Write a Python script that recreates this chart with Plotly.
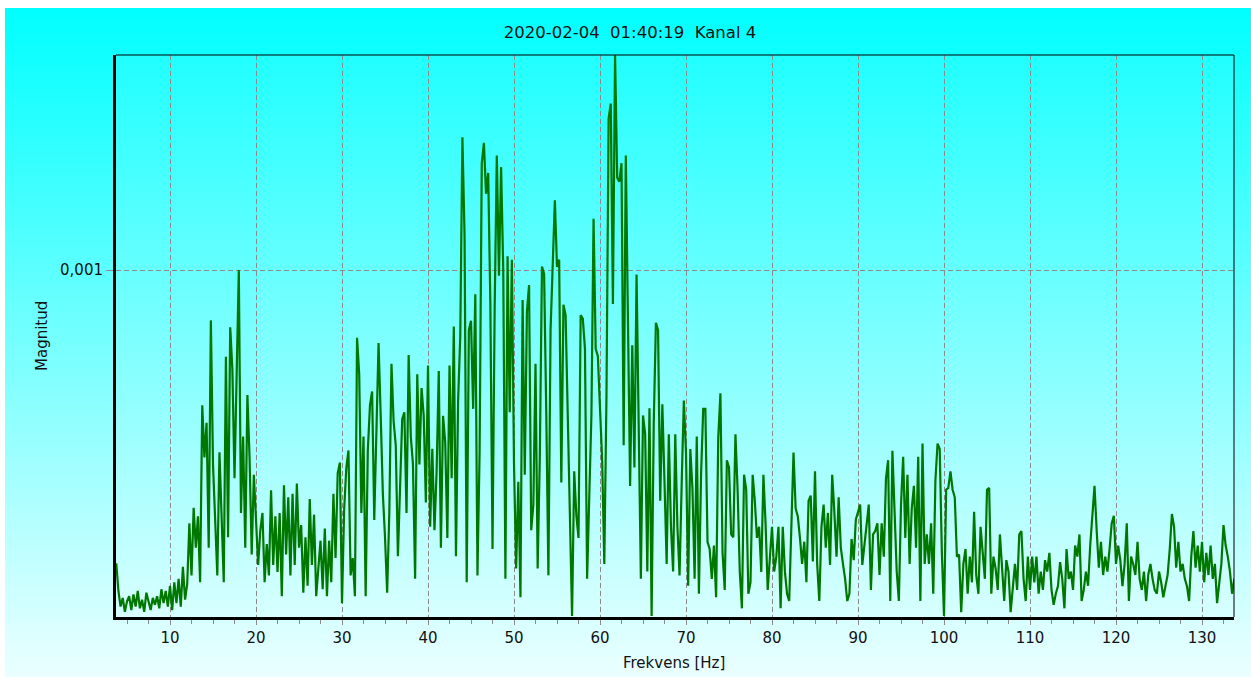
import numpy as np
import plotly.graph_objects as go

# ---------------------------------------------------------------------------
# Spectrum: magnitude per 0.25 Hz bin, in units of 1e-6 (so 1000 == 0,001)
# ---------------------------------------------------------------------------
FREQ_START = 3.75
FREQ_STEP = 0.25

mag_first = [155]
mag_04_14 = [75, 30, 55, 15,   45, 60, 20, 65,   30, 75, 25, 50,   15, 70, 40, 20,
             55, 35, 60, 25,   80, 40, 75, 30,   90, 20, 100, 40,  110, 30, 145, 50,
             95, 270, 120, 315, 200, 290, 100, 610]
mag_14_24 = [460, 560, 200, 855, 440, 260, 120, 475, 250, 100, 750, 230,
             835, 715, 400, 690, 1000, 300, 520, 200, 640, 460, 180, 410,
             290, 150, 250, 300, 100, 210, 120, 365, 150, 290, 130, 300,
             60, 380, 180, 345]
mag_24_34 = [120, 355, 150, 385, 200, 265, 70, 230, 90, 340, 150, 295,
             60, 130, 220, 80, 255, 60, 220, 100, 355, 170, 415, 445,
             40, 310, 430, 480, 120, 170, 60, 805, 700, 300, 520, 60,
             480, 610, 650, 280]
mag_34_44 = [560, 790, 580, 355, 230, 70, 300, 730, 565, 495, 175, 345,
             570, 590, 300, 755, 520, 440, 110, 700, 440, 660, 580, 330,
             725, 260, 485, 250, 420, 709, 200, 580, 505, 228, 725, 400,
             837, 175, 624, 810]
mag_44_54 = [1383, 1100, 100, 827, 854, 600, 930, 120, 475, 1308, 1367, 1220,
             1280, 900, 196, 890, 1330, 984, 1297, 1000, 110, 1040, 590, 1030,
             440, 140, 390, 57, 914, 410, 880, 957, 250, 324, 730, 140,
             462, 1010, 989, 591]
mag_54_64 = [120, 827, 1036, 1201, 1009, 1030, 388, 900, 870, 581, 313, 3,
             420, 292, 228, 870, 860, 773, 110, 345, 581, 1148, 773, 752,
             624, 452, 153, 634, 1437, 1480, 902, 1620, 1266, 1255, 1308, 495,
             1330, 923, 378, 783]
mag_64_74 = [431, 987, 474, 110, 581, 527, 131, 602, 3, 560, 848, 827,
             335, 613, 388, 153, 527, 260, 131, 527, 260, 120, 388, 624,
             474, 90, 484, 370, 110, 520, 67, 410, 600, 600, 217, 196,
             110, 206, 57, 517]
mag_74_84 = [645, 185, 78, 452, 431, 238, 230, 527, 367, 131, 25, 410,
             367, 67, 100, 410, 335, 228, 260, 130, 410, 270, 78, 164,
             260, 131, 174, 260, 25, 260, 130, 67, 46, 260, 474, 313,
             290, 228, 153, 217]
mag_84_94 = [100, 335, 350, 160, 420, 153, 46, 260, 324, 200, 300, 150,
             410, 303, 174, 345, 200, 153, 110, 46, 67, 225, 164, 281,
             303, 324, 150, 206, 281, 324, 78, 238, 248, 270, 121, 270,
             174, 399, 452, 46]
mag_94_104 = [479, 303, 131, 46, 324, 462, 228, 410, 153, 313, 378, 200,
              462, 46, 500, 153, 238, 153, 270, 67, 394, 500, 484, 185,
              3, 367, 372, 420, 367, 345, 174, 180, 14, 153, 196, 67,
              174, 100, 303, 120]
mag_104_114 = [67, 260, 196, 110, 367, 372, 67, 174, 140, 78, 238, 150,
               46, 164, 131, 14, 89, 153, 78, 238, 248, 110, 46, 174,
               78, 174, 100, 174, 67, 131, 78, 164, 131, 185, 78, 35,
               67, 89, 158, 110]
mag_114_124 = [25, 196, 110, 131, 78, 206, 174, 238, 46, 78, 131, 90,
               206, 292, 378, 250, 142, 217, 121, 174, 131, 196, 270, 292,
               153, 206, 164, 89, 153, 270, 46, 174, 153, 121, 217, 110,
               78, 131, 46, 121]
mag_124_134 = [153, 110, 78, 67, 131, 100, 57, 89, 121, 196, 297, 260,
               142, 217, 131, 153, 110, 89, 46, 174, 248, 142, 206, 131,
               217, 100, 185, 121, 206, 110, 153, 40, 100, 153, 265, 206,
               174, 131, 67, 110]

bands = [mag_04_14, mag_14_24, mag_24_34, mag_34_44, mag_44_54, mag_54_64,
         mag_64_74, mag_74_84, mag_84_94, mag_94_104, mag_104_114,
         mag_114_124, mag_124_134]
for b in bands:
    assert len(b) == 40, len(b)

magnitude = np.array(mag_first + sum(bands, []), dtype=float) * 1e-6
frequency = FREQ_START + FREQ_STEP * np.arange(len(magnitude))

x_tick_values = [10, 20, 30, 40, 50, 60, 70, 80, 90, 100, 110, 120, 130]
x_tick_labels = [str(v) for v in x_tick_values]
y_tick_values = [0.001]
y_tick_labels = ["0,001"]

title_text = "2020-02-04\u00a0\u00a001:40:19\u00a0\u00a0Kanal 4"

# ---------------------------------------------------------------------------
# Layout geometry (pixels)
# ---------------------------------------------------------------------------
W, H = 1251, 677
ML, MR, MT, MB = 116, 17, 55, 60
PW = W - ML - MR
PH = H - MT - MB
FONT = "DejaVu Sans"


def paper_x(px):
    return (px - ML) / PW


def paper_y(py):
    return (H - MB - py) / PH


def lerp_rgb(c0, c1, t):
    return "rgb({},{},{})".format(*[round(a + (b - a) * t) for a, b in zip(c0, c1)])


def gradient_strips(x0, x1, y0, y1, c_top, c_bottom, step):
    out = []
    n = int(np.ceil((y1 - y0) / step))
    for i in range(n):
        top = y0 + i * step
        bot = min(y1, top + step + 1)
        t = (top + step / 2 - y0) / (y1 - y0)
        out.append(dict(type="rect", xref="paper", yref="paper",
                        x0=paper_x(x0), x1=paper_x(x1),
                        y0=paper_y(bot), y1=paper_y(top),
                        fillcolor=lerp_rgb(c_top, c_bottom, min(t, 1)),
                        line=dict(width=0), layer="below"))
    return out


shapes = []
# window background gradient
shapes += gradient_strips(5, W, 8, H, (0, 255, 255), (235, 255, 255), 3)
# plot area gradient
shapes += gradient_strips(ML, W - MR, MT, H - MB, (32, 255, 255), (216, 255, 255), 2)
# thin top and right frame lines
shapes.append(dict(type="line", xref="paper", yref="paper", x0=0, x1=1, y0=1, y1=1,
                   line=dict(color="black", width=1), layer="above"))
shapes.append(dict(type="line", xref="paper", yref="paper", x0=1, x1=1, y0=0, y1=1,
                   line=dict(color="black", width=1), layer="above"))

fig = go.Figure()
fig.add_trace(go.Scatter(x=frequency, y=magnitude, mode="lines",
                         line=dict(color="#007800", width=2.2),
                         hoverinfo="skip", showlegend=False))

grid_color = "#8a8a8a"
grid_dash = "5px,3px"
fig.update_layout(
    width=W, height=H,
    margin=dict(l=ML, r=MR, t=MT, b=MB, pad=0),
    paper_bgcolor="white",
    plot_bgcolor="rgba(0,0,0,0)",
    font=dict(family=FONT, size=15, color="#111111"),
    showlegend=False,
    shapes=shapes,
    title=dict(text=title_text, x=630 / W, xanchor="center", xref="container",
               y=1 - 32 / H, yanchor="middle", yref="container",
               font=dict(family=FONT, size=16.5, color="#111111")),
    xaxis=dict(range=[3.72, 133.72], tickmode="array", tickvals=x_tick_values,
               ticktext=x_tick_labels, ticks="outside", ticklen=5, tickwidth=1,
               tickcolor=grid_color, showline=True, linecolor="black", linewidth=3,
               showgrid=True, gridcolor=grid_color, gridwidth=1, griddash=grid_dash,
               zeroline=False, tickfont=dict(size=15),
               minor=dict(dtick=2.5, tick0=0, ticks="outside", ticklen=4,
                          tickcolor=grid_color, showgrid=False)),
    yaxis=dict(range=[0, 0.00162], tickmode="array", tickvals=y_tick_values,
               ticktext=y_tick_labels, ticks="outside", ticklen=7, tickwidth=1,
               tickcolor=grid_color, showline=True, linecolor="black", linewidth=3,
               showgrid=True, gridcolor=grid_color, gridwidth=1, griddash=grid_dash,
               zeroline=False, tickfont=dict(size=15)),
    annotations=[
        dict(text="Magnitud", xref="paper", yref="paper", x=paper_x(42), y=0.5,
             xanchor="center", yanchor="middle", textangle=-90, showarrow=False,
             font=dict(family=FONT, size=15, color="#111111")),
        dict(text="Frekvens [Hz]", xref="paper", yref="paper", x=paper_x(674),
             y=paper_y(663), xanchor="center", yanchor="middle", showarrow=False,
             font=dict(family=FONT, size=15, color="#111111")),
    ],
)

fig.write_html("out.html")
